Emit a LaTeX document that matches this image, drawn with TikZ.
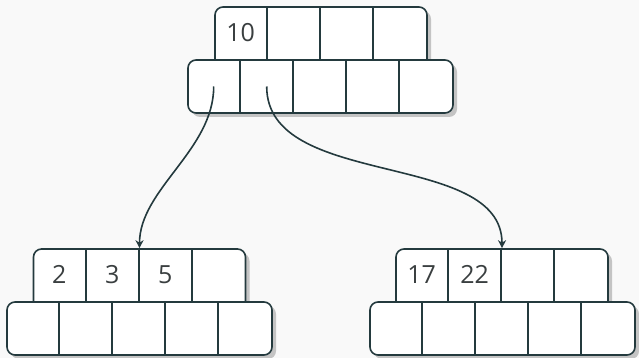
\documentclass[tikz,border=0pt]{standalone}
\usepackage{fontspec}
\setmainfont{Open Sans}
\usetikzlibrary{shadows,calc,arrows.meta}
\definecolor{bg}{HTML}{F9F9F9}
\definecolor{ink}{HTML}{243A3E}
\definecolor{txt}{HTML}{3A3F40}
\definecolor{shade}{HTML}{C4C4C4}
\tikzset{
  boxbase/.style={draw=ink, line width=1.6pt, fill=white, rounded corners=8pt,
    inner sep=0pt,
    drop shadow={shadow xshift=4pt, shadow yshift=-4pt, fill=shade, opacity=1}},
  keysbox/.style={boxbase, minimum width=212pt, minimum height=69pt},
  ptrbox/.style={boxbase, minimum width=265pt, minimum height=53pt},
  cellline/.style={draw=ink, line width=1.6pt},
  keytext/.style={text=txt, font=\fontsize{25}{28}\selectfont, inner sep=0pt},
  link/.style={draw=ink, line width=1.6pt, -{Stealth[length=8pt,width=8pt,inset=2.5pt]}}
}
\begin{document}
\begin{tikzpicture}[x=1pt,y=-1pt]
\fill[bg] (0,0) rectangle (639,358);
\useasboundingbox (0,0) rectangle (639,358);

% top node (keys box extends under the pointer box)
\node[keysbox] (Tk) at (321,41.5) {};
\node[ptrbox] (Tp) at (320.5,86.5) {};
% bottom left node
\node[keysbox] (Lk) at (139.5,283.5) {};
\node[ptrbox] (Lp) at (139.5,328.5) {};
% bottom right node
\node[keysbox] (Rk) at (502,283.5) {};
\node[ptrbox] (Rp) at (502.5,328.5) {};

\foreach \n/\p in {Tk/Tp,Lk/Lp,Rk/Rp}{
  \foreach \i in {1,2,3}{
    \draw[cellline] ($(\n.north west)+(\i*53,0)$) -- ($(\n.north west)+(\i*53,53)$);
  }
}
\foreach \n in {Tp,Lp,Rp}{
  \foreach \i in {1,2,3,4}{
    \draw[cellline] ($(\n.north west)+(\i*53,0)$) -- ($(\n.south west)+(\i*53,0)$);
  }
}

% keys
\node[keytext] (k10) at ($(Tk.north west)+(26.5,26.5)$) {10};
\node[keytext] (k2) at ($(Lk.north west)+(26.5,26.5)$) {2};
\node[keytext] (k3) at ($(Lk.north west)+(79.5,26.5)$) {3};
\node[keytext] (k5) at ($(Lk.north west)+(132.5,26.5)$) {5};
\node[keytext] (k17) at ($(Rk.north west)+(26.5,26.5)$) {17};
\node[keytext] (k22) at ($(Rk.north west)+(79.5,26.5)$) {22};

% pointer cells
\coordinate (Tp1) at ($(Tp.west)+(26.5,0)$);
\coordinate (Tp2) at ($(Tp.west)+(79.5,0)$);

\draw[link] (Tp1) .. controls +(0,63.5) and +(0,-59) .. (Lk.north);
\draw[link] (Tp2) .. controls +(0,103.5) and +(0,-99) .. (Rk.north);
\end{tikzpicture}
\end{document}
